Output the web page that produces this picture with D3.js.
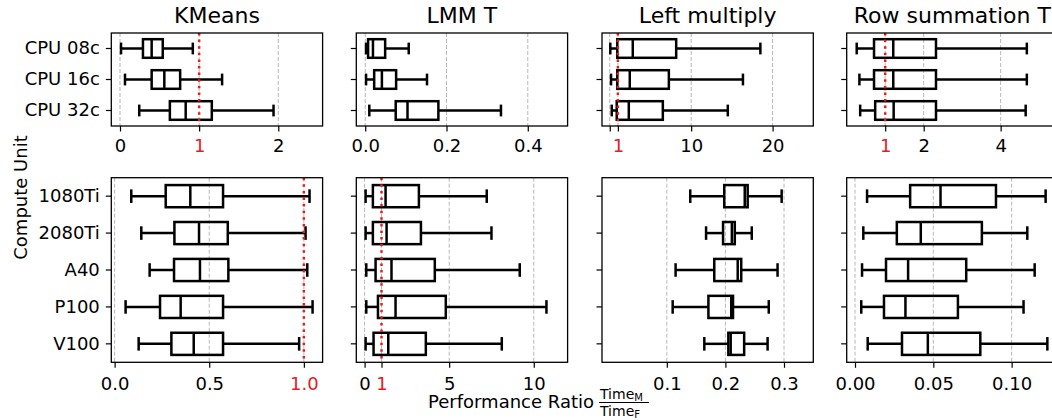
<!DOCTYPE html>
<html>
<head>
<meta charset="utf-8">
<script src="https://cdn.jsdelivr.net/npm/d3@7"></script>
<style>
  html, body { margin: 0; padding: 0; background: #fff; }
  svg { display: block; font-family: "DejaVu Sans", sans-serif; }
</style>
</head>
<body>
<svg id="chart" width="1052" height="420"></svg>
<script>
// Compute units (rows) and benchmarks (columns)
const cpuUnits = ["CPU 08c", "CPU 16c", "CPU 32c"];
const gpuUnits = ["1080Ti", "2080Ti", "A40", "P100", "V100"];
const benchmarks = ["KMeans", "LMM T", "Left multiply", "Row summation T"];

// Box statistics per unit: [lower whisker, Q1, median, Q3, upper whisker]
const kmeansCpu = [[0.013, 0.29, 0.40, 0.54, 0.92], [0.063, 0.40, 0.56, 0.76, 1.29], [0.243, 0.63, 0.83, 1.16, 1.94]];
const kmeansGpu = [[0.088, 0.27, 0.40, 0.573, 1.03], [0.141, 0.316, 0.446, 0.598, 1.009], [0.185, 0.314, 0.451, 0.601, 1.018], [0.058, 0.24, 0.349, 0.573, 1.046], [0.127, 0.30, 0.418, 0.573, 0.975]];
const lmmCpu = [[0.002, 0.007, 0.019, 0.049, 0.107], [0.002, 0.022, 0.041, 0.076, 0.152], [0.01, 0.075, 0.104, 0.18, 0.334]];
const lmmGpu = [[0.06, 0.49, 1.24, 3.21, 7.22], [0.06, 0.49, 1.30, 3.33, 7.50], [0.10, 0.65, 1.59, 4.15, 9.17], [0.10, 0.79, 1.83, 4.80, 10.75], [0.06, 0.53, 1.40, 3.62, 8.11]];
const leftCpu = [[0.07, 0.93, 2.83, 8.16, 18.5], [0.16, 0.93, 2.46, 7.26, 16.36], [0.25, 0.86, 2.34, 6.52, 14.5]];
const leftGpu = [[0.140, 0.198, 0.233, 0.238, 0.296], [0.167, 0.196, 0.211, 0.216, 0.245], [0.115, 0.181, 0.221, 0.227, 0.289], [0.110, 0.171, 0.210, 0.213, 0.274], [0.164, 0.205, 0.209, 0.232, 0.272]];
const rowCpu = [[0.26, 0.71, 1.21, 2.32, 4.68], [0.33, 0.71, 1.21, 2.32, 4.68], [0.35, 0.74, 1.22, 2.32, 4.65]];
const rowGpu = [[0.0077, 0.0352, 0.0546, 0.090, 0.1217], [0.0053, 0.0267, 0.042, 0.081, 0.110], [0.0045, 0.0198, 0.0339, 0.071, 0.1147], [0.004, 0.0185, 0.0322, 0.0657, 0.1076], [0.0081, 0.030, 0.0465, 0.080, 0.1228]];

// Axis limits and tick marks for each panel
const kmeansCpuDomain = [-0.11, 2.56], kmeansGpuDomain = [-0.0175, 1.099];
const lmmCpuDomain = [-0.022, 0.498], lmmGpuDomain = [-0.49, 12.0];
const leftCpuDomain = [-0.95, 25.0], leftGpuDomain = [-0.0106, 0.35];
const rowCpuDomain = [0.0, 5.49], rowGpuDomain = [-0.0053, 0.1296];

const kmeansCpuTicks = [0, 1, 2], kmeansCpuLabels = ["0", "1", "2"];
const kmeansGpuTicks = [0, 0.5, 1.0], kmeansGpuLabels = ["0.0", "0.5", "1.0"];
const lmmCpuTicks = [0, 0.2, 0.4], lmmCpuLabels = ["0.0", "0.2", "0.4"];
const lmmGpuTicks = [0, 1, 5, 10], lmmGpuLabels = ["0", "1", "5", "10"];
const leftCpuTicks = [0, 1, 10, 20], leftCpuLabels = ["", "1", "10", "20"];
const leftGpuTicks = [0.1, 0.2, 0.3], leftGpuLabels = ["0.1", "0.2", "0.3"];
const rowCpuTicks = [1, 2, 4], rowCpuLabels = ["1", "2", "4"];
const rowGpuTicks = [0, 0.05, 0.10], rowGpuLabels = ["0.00", "0.05", "0.10"];

const baseline = 1; // parity line: ratio of 1

const panels = [
  { col: 0, row: 0, stats: kmeansCpu, domain: kmeansCpuDomain, ticks: kmeansCpuTicks, labels: kmeansCpuLabels },
  { col: 1, row: 0, stats: lmmCpu, domain: lmmCpuDomain, ticks: lmmCpuTicks, labels: lmmCpuLabels },
  { col: 2, row: 0, stats: leftCpu, domain: leftCpuDomain, ticks: leftCpuTicks, labels: leftCpuLabels },
  { col: 3, row: 0, stats: rowCpu, domain: rowCpuDomain, ticks: rowCpuTicks, labels: rowCpuLabels },
  { col: 0, row: 1, stats: kmeansGpu, domain: kmeansGpuDomain, ticks: kmeansGpuTicks, labels: kmeansGpuLabels },
  { col: 1, row: 1, stats: lmmGpu, domain: lmmGpuDomain, ticks: lmmGpuTicks, labels: lmmGpuLabels },
  { col: 2, row: 1, stats: leftGpu, domain: leftGpuDomain, ticks: leftGpuTicks, labels: leftGpuLabels },
  { col: 3, row: 1, stats: rowGpu, domain: rowGpuDomain, ticks: rowGpuTicks, labels: rowGpuLabels }
];

// Layout
const colLeft = [111.3, 356.3, 602, 846.7];
const panelW = 211.3;
const rowTop = [33, 177.7];
const rowH = [93, 184.6];
const rowUnits = [cpuUnits, gpuUnits];
const xLabelGap = [12, 14];

const RED = "#e0201f";
const svg = d3.select("#chart");

panels.forEach(p => {
  const x0 = colLeft[p.col], y0 = rowTop[p.row], h = rowH[p.row];
  const units = rowUnits[p.row];
  const x = d3.scaleLinear().domain(p.domain).range([x0, x0 + panelW]);
  const y = d3.scaleBand().domain(units).range([y0, y0 + h]).padding(0);
  const band = y.bandwidth();
  const g = svg.append("g");

  // grid lines at ticks
  g.selectAll("line.grid").data(p.ticks).join("line")
    .attr("class", "grid")
    .attr("x1", d => x(d)).attr("x2", d => x(d))
    .attr("y1", y0).attr("y2", y0 + h)
    .attr("stroke", "#b8b8b8").attr("stroke-width", 1)
    .attr("stroke-dasharray", "4,2");

  // boxes
  const boxH = band * 0.6, capH = band * 0.3;
  const rows = g.selectAll("g.box").data(p.stats).join("g")
    .attr("class", "box")
    .attr("transform", (d, i) => `translate(0,${y(units[i]) + band / 2})`);
  const lw = 2.5;
  rows.append("line").attr("x1", d => x(d[0])).attr("x2", d => x(d[1])).attr("y1", 0).attr("y2", 0)
    .attr("stroke", "#000").attr("stroke-width", lw);
  rows.append("line").attr("x1", d => x(d[3])).attr("x2", d => x(d[4])).attr("y1", 0).attr("y2", 0)
    .attr("stroke", "#000").attr("stroke-width", lw);
  rows.append("line").attr("x1", d => x(d[0])).attr("x2", d => x(d[0])).attr("y1", -capH / 2).attr("y2", capH / 2)
    .attr("stroke", "#000").attr("stroke-width", lw).attr("stroke-linecap", "square");
  rows.append("line").attr("x1", d => x(d[4])).attr("x2", d => x(d[4])).attr("y1", -capH / 2).attr("y2", capH / 2)
    .attr("stroke", "#000").attr("stroke-width", lw).attr("stroke-linecap", "square");
  rows.append("rect").attr("x", d => x(d[1])).attr("width", d => x(d[3]) - x(d[1]))
    .attr("y", -boxH / 2).attr("height", boxH)
    .attr("fill", "none").attr("stroke", "#000").attr("stroke-width", lw);
  rows.append("line").attr("x1", d => x(d[2])).attr("x2", d => x(d[2])).attr("y1", -boxH / 2).attr("y2", boxH / 2)
    .attr("stroke", "#000").attr("stroke-width", lw);

  // parity line
  if (baseline >= p.domain[0] && baseline <= p.domain[1]) {
    g.append("line")
      .attr("x1", x(baseline)).attr("x2", x(baseline))
      .attr("y1", y0).attr("y2", y0 + h)
      .attr("stroke", RED).attr("stroke-width", 2.5)
      .attr("stroke-dasharray", "2.5,4.1");
  }

  // frame
  g.append("rect").attr("x", x0).attr("y", y0).attr("width", panelW).attr("height", h)
    .attr("fill", "none").attr("stroke", "#000").attr("stroke-width", 1.3);

  // x axis
  const xAxis = d3.axisBottom(x).tickValues(p.ticks).tickSize(5.5).tickPadding(xLabelGap[p.row] - 5.5)
    .tickFormat((d, i) => p.labels[i]);
  const xa = g.append("g").attr("transform", `translate(0,${y0 + h})`).call(xAxis);
  xa.select(".domain").remove();
  xa.selectAll(".tick line").attr("stroke", "#000").attr("stroke-width", 1.2);
  xa.selectAll(".tick text")
    .attr("font-size", 18).attr("font-family", "DejaVu Sans").attr("dy", "0.76em")
    .attr("fill", d => d === baseline ? RED : "#000");

  // y axis
  const yAxis = d3.axisLeft(y).tickSize(5.5).tickPadding(6)
    .tickFormat(d => p.col === 0 ? d : "");
  const ya = g.append("g").attr("transform", `translate(${x0},0)`).call(yAxis);
  ya.select(".domain").remove();
  ya.selectAll(".tick line").attr("stroke", "#000").attr("stroke-width", 1.2);
  ya.selectAll(".tick text").attr("font-size", 18).attr("font-family", "DejaVu Sans").attr("fill", "#000");

  if (p.row === 0) {
    svg.append("text")
      .attr("x", x0 + panelW / 2).attr("y", 23.3)
      .attr("text-anchor", "middle").attr("font-size", 22)
      .text(benchmarks[p.col]);
  }
});

// shared axis labels
svg.append("text")
  .attr("transform", "translate(27,197.5) rotate(-90)")
  .attr("text-anchor", "middle").attr("font-size", 18)
  .text("Compute Unit");

const xl = svg.append("g");
xl.append("text").attr("x", 428).attr("y", 408).attr("font-size", 18).text("Performance Ratio");
const fx = 599;
const num = xl.append("text").attr("x", fx + 1).attr("y", 399).attr("font-size", 14);
num.append("tspan").text("Time");
num.append("tspan").attr("font-size", 10).attr("dy", 2).text("M");
const den = xl.append("text").attr("x", fx + 1).attr("y", 415.5).attr("font-size", 14);
den.append("tspan").text("Time");
den.append("tspan").attr("font-size", 10).attr("dy", 2).text("F");
xl.append("line").attr("x1", fx).attr("x2", fx + 50).attr("y1", 402.5).attr("y2", 402.5)
  .attr("stroke", "#000").attr("stroke-width", 1);
</script>
</body>
</html>
